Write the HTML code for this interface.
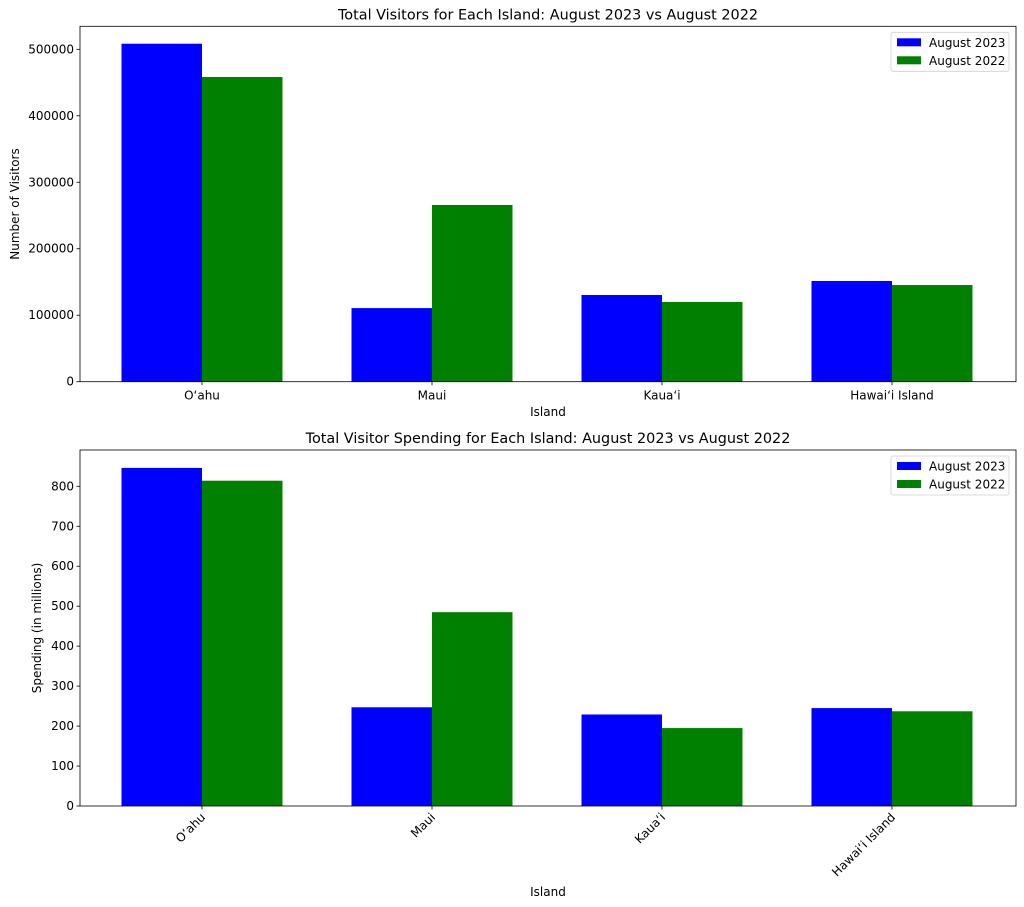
<!DOCTYPE html>
<html><head><meta charset="utf-8">
<style>
html,body{margin:0;padding:0;background:#fff;}
svg{display:block;font-family:"DejaVu Sans","Liberation Sans",sans-serif;}
</style></head>
<body>
<svg id="c" width="1024" height="907" xmlns="http://www.w3.org/2000/svg"></svg>
<script>
const categories = ["O\u2018ahu","Maui","Kaua\u2018i","Hawai\u2018i Island"];
const visitors2023 = [508400, 110700, 130400, 151500];
const visitors2022 = [458300, 265800, 119900, 145400];
const spending2023 = [846, 247, 229, 245];
const spending2022 = [814, 485, 195, 237];
const visitorTicks = [0,100000,200000,300000,400000,500000];
const spendingTicks = [0,100,200,300,400,500,600,700,800];
const seriesNames = ["August 2023","August 2022"];

const NS="http://www.w3.org/2000/svg";
const svg=document.getElementById('c');
function mk(tag,attrs,parent,text){
  const e=document.createElementNS(NS,tag);
  for(const k in attrs) e.setAttribute(k,attrs[k]);
  if(text!==undefined) e.textContent=text;
  (parent||svg).appendChild(e);return e;
}
function drawPanel(o){
  const g=mk('g',{});
  
  
  const L=80,R=1016,T=o.top,B=o.bottom;
  const xs=i=>202+i*230; // category center
  const ys=v=>B-(v-0)*(B-o.ref)/o.refVal;
  const bw=80.5;
  // bars
  categories.forEach((c,i)=>{
    const b1=mk('rect',{x:xs(i)-bw,y:ys(o.s1[i]),width:bw,height:B-ys(o.s1[i]),fill:'#0000ff'},g);
    
    
    const b2=mk('rect',{x:xs(i),y:ys(o.s2[i]),width:bw,height:B-ys(o.s2[i]),fill:'#008000'},g);
    
    
  });
  // frame
  const fr=mk('rect',{x:L,y:T,width:R-L,height:B-T,fill:'none',stroke:'#000','stroke-width':0.8},g);
  
  
  // y ticks
  o.ticks.forEach(t=>{
    const y=ys(t);
    mk('line',{x1:L-3.5,x2:L,y1:y,y2:y,stroke:'#000','stroke-width':0.8},g);
    const tl=mk('text',{x:L-6,y:y+4,'text-anchor':'end','font-size':12,fill:'#000'},g,String(t));
    
    
  });
  // x ticks
  categories.forEach((c,i)=>{
    const x=xs(i);
    mk('line',{x1:x,x2:x,y1:B,y2:B+3.5,stroke:'#000','stroke-width':0.8},g);
    let tl;
    if(o.rot){
      tl=mk('text',{x:x+4,y:B+12,'text-anchor':'end','font-size':12,fill:'#000',transform:`rotate(-45 ${x+4} ${B+12})`},g,c);
    } else {
      tl=mk('text',{x:x,y:B+18,'text-anchor':'middle','font-size':12,fill:'#000'},g,c);
    }
    
    
  });
  const tt=mk('text',{x:(L+R)/2,y:T-7,'text-anchor':'middle','font-size':14.4,fill:'#000'},g,o.title);
  
  
  const xt=mk('text',{x:(L+R)/2,y:o.xlabY,'text-anchor':'middle','font-size':12,fill:'#000'},g,'Island');
  
  
  const yc=(T+B)/2;
  const yt=mk('text',{x:o.ylabX,y:yc,'text-anchor':'middle','font-size':12,fill:'#000',transform:`rotate(-90 ${o.ylabX} ${yc})`},g,o.ylab);
  
  
  // legend
  const lg=mk('g',{},g);
  
  
  mk('rect',{x:891,y:T+6,width:118,height:39,rx:2,fill:'#fff','fill-opacity':0.8,stroke:'#d0d0d0','stroke-width':0.8},lg);
  [['#0000ff',seriesNames[0]],['#008000',seriesNames[1]]].forEach((s,k)=>{
    const yy=T+12+k*18;
    const e=mk('g',{},lg);
    
    
    mk('rect',{x:897,y:yy,width:24,height:8,fill:s[0]},e);
    mk('text',{x:929,y:yy+8.5,'font-size':12,fill:'#000'},e,s[1]);
  });
}
drawPanel({name:'visitors-chart',top:26.3,bottom:381.7,ref:49.3,refVal:500000,s1:visitors2023,s2:visitors2022,ticks:visitorTicks,
  title:'Total Visitors for Each Island: August 2023 vs August 2022',ylab:'Number of Visitors',ylabX:19,xlabY:416,rot:false});
drawPanel({name:'spending-chart',top:450,bottom:806,ref:486.3,refVal:800,s1:spending2023,s2:spending2022,ticks:spendingTicks,
  title:'Total Visitor Spending for Each Island: August 2023 vs August 2022',ylab:'Spending (in millions)',ylabX:41,xlabY:896,rot:true});
</script>
</body></html>
